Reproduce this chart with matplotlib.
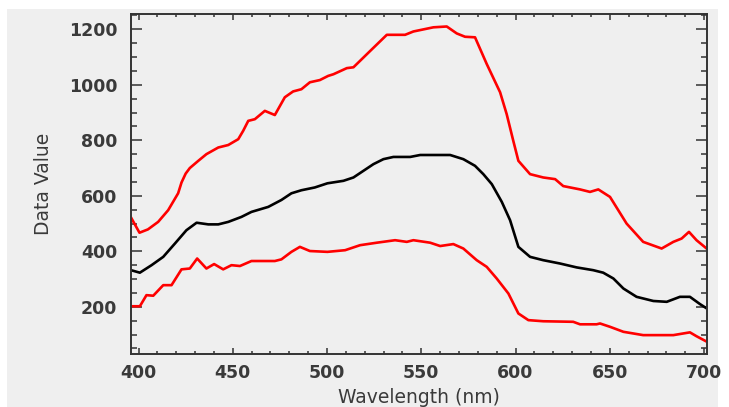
import matplotlib
matplotlib.use("Agg")
import matplotlib.pyplot as plt
from matplotlib.patches import Rectangle
from matplotlib.ticker import MultipleLocator

# upper envelope (red)
wl_upper = [396, 400.5, 405, 410.4, 415.7, 421, 422.8, 425, 427.2, 431.7, 436, 442.3, 447.6,
            452.9, 455.5, 458.2, 461.7, 467, 472.3, 477.6, 482, 486.4, 490.9, 496.2, 500.6,
            503.4, 510.5, 514, 522.9, 531.7, 541.4, 545.8, 556.4, 563.5, 568.8, 573.2, 578.5,
            584.7, 591.8, 595.3, 598.8, 601.5, 607.7, 614.7, 621, 625.3, 634.2, 639.5, 643.9,
            650.1, 658.9, 667.7, 677.5, 683.7, 688.1, 692, 696, 701]
upper = [522, 467, 479, 506, 548, 609, 648, 680, 700, 726, 750, 774, 783,
         804, 834, 870, 876, 906, 891, 955, 976, 984, 1009, 1017, 1032,
         1038, 1060, 1063, 1122, 1180, 1180, 1192, 1207, 1210, 1185, 1173, 1171,
         1075, 973, 894, 798, 726, 678, 666, 660, 635, 623, 614, 623,
         596, 500, 434, 410, 434, 446, 470, 440, 412]

# mean (black)
wl_mean = [396, 400.7, 406.9, 413.1, 419.3, 425.4, 430.8, 437, 442.3, 447.6, 454.6, 459.9,
           468.8, 475.8, 481.1, 486.4, 493.5, 500.2, 508.7, 514, 519.3, 524.6, 529.9, 535.2,
           544.1, 549.4, 565.3, 572.3, 578.5, 582.9, 587.4, 592.7, 597.1, 601.5, 607.7,
           614.7, 623.6, 632.4, 641.2, 646.5, 651.9, 657.2, 664.2, 673.1, 680.2, 687.2,
           692.5, 697.8, 701]
mean = [332, 323, 350, 380, 428, 476, 503, 497, 497, 506, 524, 542,
        560, 585, 609, 620, 630, 645, 654, 666, 690, 714, 732, 740,
        740, 747, 747, 732, 708, 678, 642, 578, 512, 416, 380,
        368, 356, 342, 332, 323, 302, 266, 236, 221, 218, 236,
        236, 210, 196]

# lower envelope (red)
wl_lower = [396, 400.7, 404.2, 407.8, 413.1, 417.5, 422.8, 427.2, 431.1, 436, 440.1, 444.9,
            449.3, 453.8, 459.9, 472.3, 475.8, 481.1, 485.6, 490.9, 500.2, 509.6, 517.5,
            526.4, 536.1, 542.3, 545.8, 554.7, 560, 567, 572.3, 579.4, 584.7, 590, 596.2,
            601.5, 606.8, 614.7, 630.6, 634.2, 643, 644.8, 650.1, 657.2, 667.7, 683.7,
            692.5, 696, 701]
lower = [202, 202, 242, 240, 278, 278, 335, 338, 374, 338, 354, 335,
         350, 347, 365, 365, 371, 398, 416, 401, 398, 404, 422,
         431, 440, 434, 440, 431, 419, 426, 410, 368, 344, 302, 248,
         176, 152, 148, 146, 137, 137, 140, 128, 110, 98, 98,
         108, 94, 76]

BG = "#efefef"
TXT = "#3a3a3a"

fig = plt.figure(figsize=(7.29, 4.07), dpi=100, facecolor="white")
fig.patches.append(Rectangle((7 / 729, 0), 711 / 729, 398 / 407,
                             transform=fig.transFigure, facecolor=BG, edgecolor="none", zorder=-10))
ax = fig.add_axes([131 / 729, 1 - 354 / 407, 575.7 / 729, 340 / 407])
ax.set_facecolor(BG)

ax.plot(wl_upper, upper, color="#ff0000", linewidth=1.9)
ax.plot(wl_mean, mean, color="black", linewidth=1.9)
ax.plot(wl_lower, lower, color="#ff0000", linewidth=1.9)

ax.set_xlim(396, 701.4)
ax.set_ylim(30, 1255)
ax.xaxis.set_major_locator(MultipleLocator(50))
ax.xaxis.set_minor_locator(MultipleLocator(10))
ax.yaxis.set_major_locator(MultipleLocator(200))
ax.yaxis.set_minor_locator(MultipleLocator(50))

ax.tick_params(axis="both", which="both", direction="in", top=True, right=True,
               color="#333333", width=1.1)
ax.tick_params(axis="y", which="major", length=8, pad=10)
ax.tick_params(axis="y", which="minor", length=4)
ax.tick_params(axis="x", which="major", length=4.5, pad=7)
ax.tick_params(axis="x", which="minor", length=2.3)
for lab in ax.get_xticklabels() + ax.get_yticklabels():
    lab.set_fontweight("bold")
    lab.set_fontsize(12.5)
    lab.set_color(TXT)

for sp in ax.spines.values():
    sp.set_color("#333333")
    sp.set_linewidth(1.4)

ax.set_xlabel("Wavelength (nm)", fontsize=13.5, color=TXT, labelpad=4.5)
ax.set_ylabel("Data Value", fontsize=13.5, color=TXT, labelpad=11)

fig.savefig("out.png", dpi=100, facecolor=fig.get_facecolor())
